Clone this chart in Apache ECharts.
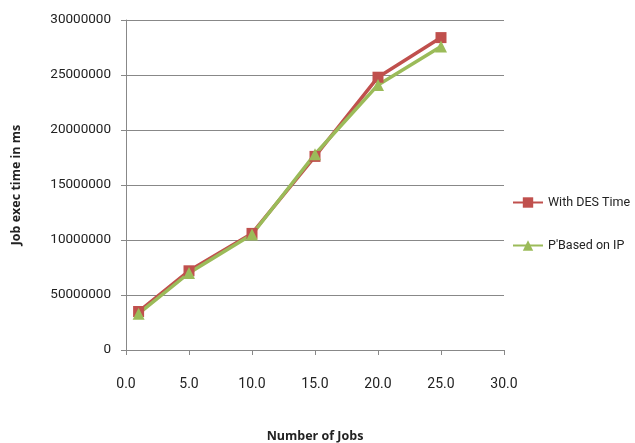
<!DOCTYPE html>
<html><head><meta charset="utf-8">
<script src="https://cdn.jsdelivr.net/npm/echarts@6/dist/echarts.min.js"></script>
<style>html,body{margin:0;padding:0;background:#fff}#c{width:635px;height:443px}</style>
</head><body><div id="c"></div>
<script>
const jobs = [1, 5, 10, 15, 20, 25];
const withDES = [3500000, 7200000, 10600000, 17600000, 24800000, 28400000];
const basedOnIP = [3300000, 7000000, 10500000, 17800000, 24100000, 27600000];
const yTickLabels = ['0', '50000000', '10000000', '15000000', '20000000', '25000000', '30000000'];
const xTickLabels = ['0.0', '5.0', '10.0', '15.0', '20.0', '25.0', '30.0'];

const chart = echarts.init(document.getElementById('c'));
const font = 'Roboto, "Open Sans", sans-serif';
const bold = 'Open Sans, Liberation Sans, sans-serif';
chart.setOption({
  animation: false,
  grid: {left: 126, top: 20, width: 378, height: 330, containLabel: false, outerBoundsMode: 'none'},
  legend: {
    orient: 'vertical', left: 512, top: 196, itemGap: 30, padding: 0,
    itemWidth: 30, itemHeight: 13,
    textStyle: {fontFamily: font, fontSize: 12.5, color: '#222'},
    data: ['With DES Time', "P'Based on IP"]
  },
  xAxis: {
    type: 'value', min: 0, max: 30, interval: 5,
    name: 'Number of Jobs', nameLocation: 'middle', nameGap: 80,
    nameTextStyle: {fontFamily: bold, fontSize: 12.5, fontWeight: 'bold', color: '#222'},
    axisLine: {lineStyle: {color: '#888'}},
    axisTick: {show: true, length: 5, lineStyle: {color: '#888'}},
    axisLabel: {margin: 27, fontFamily: font, fontSize: 14, color: '#222',
      formatter: (v) => xTickLabels[Math.round(v / 5)]},
    splitLine: {show: false}
  },
  yAxis: {
    type: 'value', min: 0, max: 30000000, interval: 5000000,
    name: 'Job exec time in ms', nameLocation: 'middle', nameGap: 103, nameRotate: 90,
    nameTextStyle: {fontFamily: bold, fontSize: 12.5, fontWeight: 'bold', color: '#222'},
    axisLine: {show: true, lineStyle: {color: '#888'}},
    axisTick: {show: true, length: 5, inside: false, lineStyle: {color: '#888'}},
    axisLabel: {margin: 15, fontFamily: font, fontSize: 13.5, color: '#222',
      formatter: (v) => yTickLabels[Math.round(v / 5000000)]},
    splitLine: {lineStyle: {color: '#888', width: 1}}
  },
  series: [
    {name: 'With DES Time', type: 'line', data: jobs.map((x, i) => [x, withDES[i]]),
     symbol: 'rect', symbolSize: 11, itemStyle: {color: '#C0504D'},
     lineStyle: {color: '#C0504D', width: 3.5}},
    {name: "P'Based on IP", type: 'line', data: jobs.map((x, i) => [x, basedOnIP[i]]),
     symbol: 'triangle', symbolSize: 12, itemStyle: {color: '#9BBB59'},
     lineStyle: {color: '#9BBB59', width: 3.5}}
  ]
});
</script></body></html>
